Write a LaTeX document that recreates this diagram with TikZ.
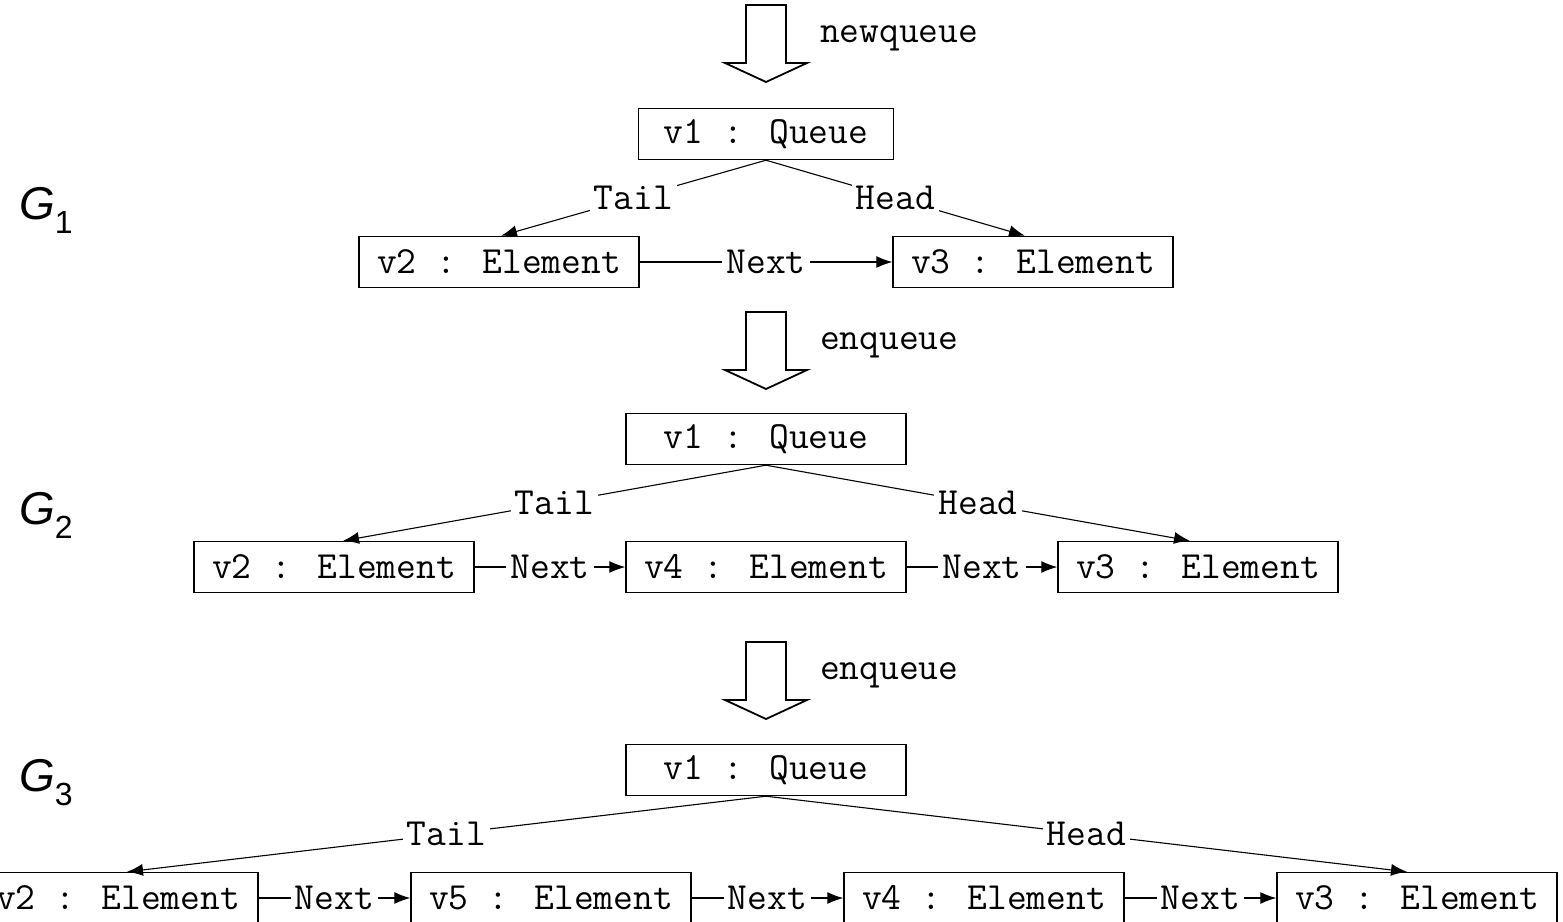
\documentclass[tikz,border=0pt]{standalone}
\usepackage{fontspec}
\setmainfont{Liberation Sans}
\setsansfont{Liberation Sans}
\usetikzlibrary{positioning,arrows.meta}

\begin{document}
\begin{tikzpicture}[x=0.5pt,y=-0.5pt,>={Latex[length=8pt,width=6pt]},node distance=216pt]
    \tikzstyle{every node}=[font=\fontsize{19.2}{22}\selectfont\ttfamily];
    \tikzstyle{obj}=[draw,line width=0.7pt,minimum width=140pt,minimum height=25.5pt,inner sep=0pt];
    \tikzstyle{rel}=[line width=0.55pt];
    \tikzstyle{lbl}=[fill=white,inner sep=2pt];
    \tikzstyle{opstep}=[draw,line width=0.9pt,fill=white];
    \tikzstyle{gname}=[font=\fontsize{23}{26}\selectfont\sffamily];

    \useasboundingbox (0,0) rectangle (1563,921);
    \clip (0,0) rectangle (1563,921);

    % operations between the graphs
    \foreach \h/\op in {63/newqueue,370/enqueue,700/enqueue}{
      \draw[opstep] (746,\h-58) -- (786,\h-58) -- (786,\h) -- (807,\h) -- (766,\h+19) -- (725,\h) -- (746,\h) -- cycle;
      \node[anchor=west] (op\h) at (813,\h-25) {\op};
    }

    % G1
    \node[gname] (g1) at (46,210) {\textit{G}\raisebox{-7pt}{\fontsize{16}{18}\selectfont 1}};
    \node[obj,minimum width=127.5pt] (a1) at (766,134) {v1 : Queue};
    \node[obj] (a2) at (499,262) {v2 : Element};
    \node[obj] (a3) [right of=a2,node distance=267pt] {v3 : Element};

    \draw[rel,->] (a1.south) -- node[lbl] {Tail} ([xshift=1pt]a2.north);
    \draw[rel,->] (a1.south) -- node[lbl] {Head} ([xshift=-4pt]a3.north);
    \draw[rel,->] (a2) -- node[lbl] {Next} (a3);

    % G2
    \node[gname] (g2) at (46,515) {\textit{G}\raisebox{-7pt}{\fontsize{16}{18}\selectfont 2}};
    \node[obj] (b1) at (766,439) {v1 : Queue};
    \node[obj] (b4) [below of=b1,node distance=64pt] {v4 : Element};
    \node[obj] (b2) [left of=b4] {v2 : Element};
    \node[obj] (b3) [right of=b4] {v3 : Element};

    \draw[rel,->] (b1.south) -- node[lbl] {Tail} ([xshift=4.5pt]b2.north);
    \draw[rel,->] (b1.south) -- node[lbl] {Head} ([xshift=-4pt]b3.north);
    \draw[rel,->] (b2) -- node[lbl] {Next} (b4);
    \draw[rel,->] (b4) -- node[lbl] {Next} (b3);

    % G3
    \node[gname] (g3) at (46,783) {\textit{G}\raisebox{-7pt}{\fontsize{16}{18}\selectfont 3}};
    \node[obj] (c1) at (766,770) {v1 : Queue};
    \node[obj] (c5) at (551,898) {v5 : Element};
    \node[obj] (c2) [left of=c5,node distance=216.5pt] {v2 : Element};
    \node[obj] (c4) [right of=c5,node distance=216.5pt] {v4 : Element};
    \node[obj] (c3) [right of=c4,node distance=216.5pt] {v3 : Element};

    \draw[rel,->] (c1.south) -- node[lbl] {Tail} ([xshift=4.5pt]c2.north);
    \draw[rel,->] (c1.south) -- node[lbl] {Head} ([xshift=-5pt]c3.north);
    \draw[rel,->] (c2) -- node[lbl] {Next} (c5);
    \draw[rel,->] (c5) -- node[lbl] {Next} (c4);
    \draw[rel,->] (c4) -- node[lbl] {Next} (c3);
\end{tikzpicture}
\end{document}
